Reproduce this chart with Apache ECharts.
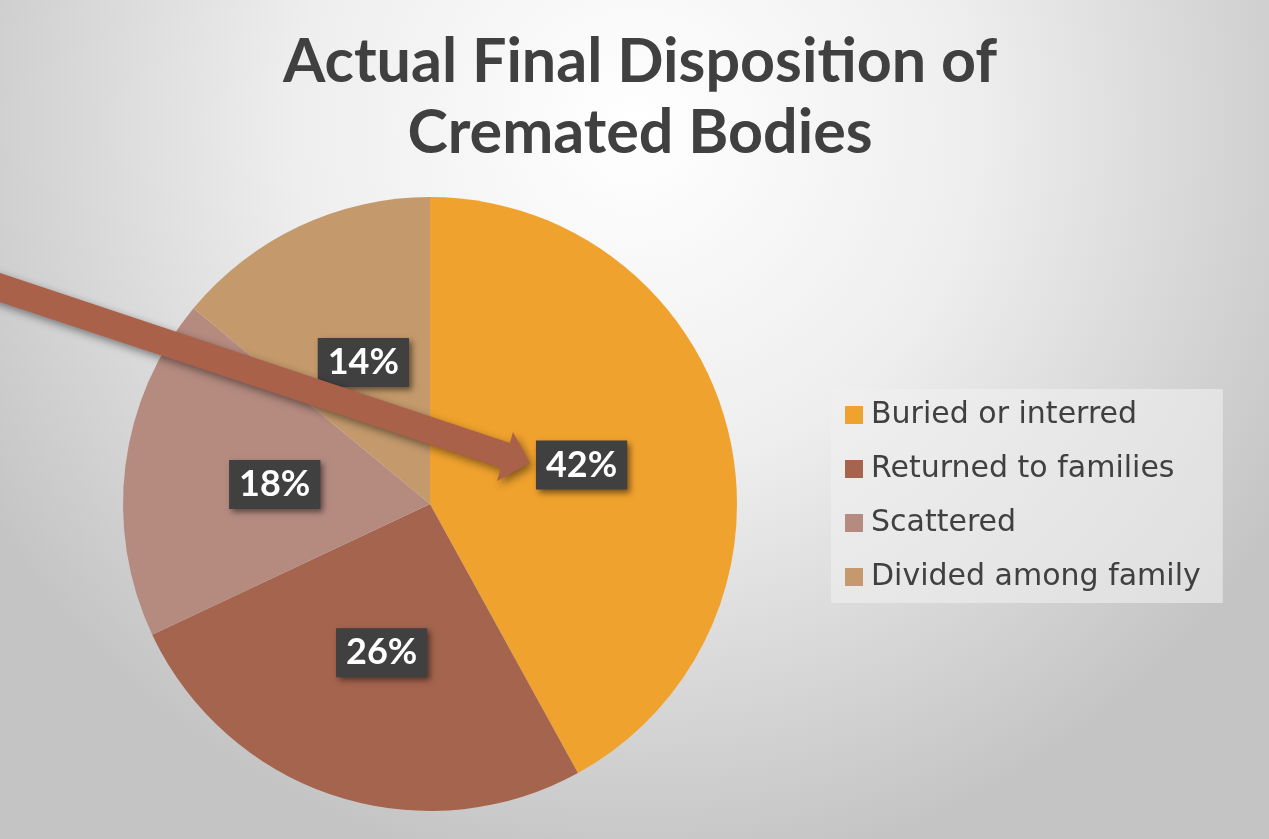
<!DOCTYPE html>
<html><head><meta charset="utf-8">
<script src="https://cdn.jsdelivr.net/npm/echarts@6/dist/echarts.min.js"></script>
<style>html,body{margin:0;padding:0;}#c{width:1269px;height:839px;}</style>
</head><body><div id="c"></div>
<script>
const categories = ['Buried or interred', 'Returned to families', 'Scattered', 'Divided among family'];
const values = [42, 26, 18, 14];
const colors = ['#F0A22E', '#A5644E', '#B58B80', '#C49A6C'];

const chart = echarts.init(document.getElementById('c'));
chart.setOption({
  backgroundColor: {
    type: 'radial', x: 0.5, y: 0.15, r: 0.9,
    colorStops: [{offset: 0, color: '#ffffff'}, {offset: 0.45, color: '#eeeeee'}, {offset: 1, color: '#c4c4c4'}]
  },
  title: {
    text: 'Actual Final Disposition of\nCremated Bodies',
    left: 635, top: 22, textAlign: 'center',
    textStyle: {fontFamily: 'Lato', fontWeight: 'bold', fontSize: 61, lineHeight: 71, color: '#404040'}
  },
  legend: {
    orient: 'vertical', left: 831, top: 389,
    padding: [10, 22, 10, 14],
    backgroundColor: 'rgba(240,240,240,0.6)',
    itemWidth: 18, itemHeight: 18, itemGap: 22, icon: 'rect',
    textStyle: {fontFamily: 'DejaVu Sans', fontSize: 30, lineHeight: 32, color: '#404040', padding: [0, 0, 0, 3]},
    data: categories
  },
  graphic: [{
    type: 'polygon',
    z: 100,
    shape: {points: [[-10, 269.7], [510, 443], [513, 432], [530, 463], [497, 481], [501, 468], [-10, 298.6]]},
    style: {fill: '#A9614A', shadowBlur: 8, shadowColor: 'rgba(0,0,0,0.45)', shadowOffsetX: 3, shadowOffsetY: 4}
  }],
  series: [{
    type: 'pie',
    center: [430, 504], radius: 307,
    startAngle: 90, clockwise: true,
    label: {
      show: true, position: 'inside',
      formatter: p => p.value + '%',
      fontFamily: 'Lato', fontWeight: 'bold', fontSize: 36, color: '#ffffff',
      backgroundColor: '#404040', padding: [7, 10, 6, 10],
      shadowBlur: 6, shadowColor: 'rgba(0,0,0,0.5)', shadowOffsetX: 3, shadowOffsetY: 3
    },
    labelLine: {show: false},
    emphasis: {disabled: true},
    itemStyle: {borderWidth: 0},
    data: categories.map((c, i) => ({name: c, value: values[i], itemStyle: {color: colors[i]}}))
  }]
});
</script></body></html>
